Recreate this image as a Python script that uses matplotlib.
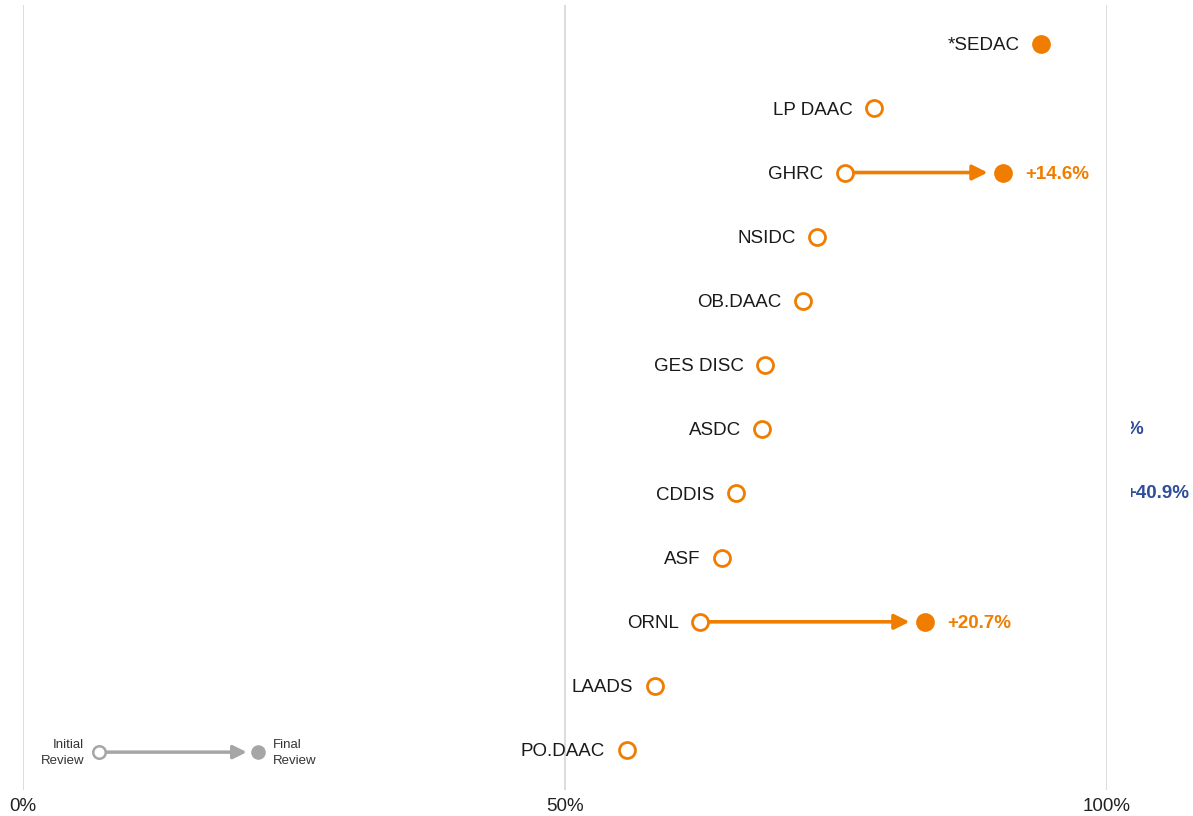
import numpy as np
import matplotlib
matplotlib.use("Agg")
import matplotlib.pyplot as plt
from matplotlib.transforms import Bbox, TransformedBbox

plt.rcParams['font.family'] = ['Liberation Sans', 'DejaVu Sans']

# ---- data ----
centers = ["*SEDAC", "LP DAAC", "GHRC", "NSIDC", "OB.DAAC", "GES DISC",
           "ASDC", "CDDIS", "ASF", "ORNL", "LAADS", "PO.DAAC"]
initial = [np.nan, 78.5, 75.8, 73.3, 72.0, 68.5, 68.2, 65.8, 64.5, 62.5, 58.3, 55.7]
final = [93.9, np.nan, 90.4, np.nan, np.nan, np.nan, np.nan, np.nan, np.nan, 83.2, np.nan, np.nan]
change_labels = ["", "", "+14.6%", "", "", "", "", "", "", "+20.7%", "", ""]
xticks = [0, 50, 100]
xtick_labels = ["0%", "50%", "100%"]
# clipped labels spilling in from the right edge
side_rows = ["ASDC", "CDDIS"]
side_texts = ["%", "+40.9%"]

ORANGE = "#F07D00"
GREY = "#A6A6A6"
BLUE = "#2E4D9C"

W, H = 1193, 816
fig = plt.figure(figsize=(W / 100, H / 100), dpi=100)
x0, x1 = 22.5, 1107.0
ax = fig.add_axes([x0 / W, 1 - 790 / H, (x1 - x0) / W, (790 - 5) / H])
ax.set_xlim(0, 100)
ax.set_ylim(11.62, -0.61)
for s in ax.spines.values():
    s.set_visible(False)
ax.set_yticks([])
ax.set_xticks(xticks)
ax.set_xticklabels(xtick_labels, fontsize=13.5, color="#222222")
ax.tick_params(axis="x", length=0, pad=6)
for xv in xticks:
    ax.axvline(xv, color="#DCDCDC", lw=1.4, zorder=0)

for i, name in enumerate(centers):
    xi, xf = initial[i], final[i]
    if not np.isnan(xi) and not np.isnan(xf):
        ax.annotate("", xy=(xf, i), xytext=(xi, i),
                    arrowprops=dict(arrowstyle="-|>,head_length=0.9,head_width=0.45",
                                    color=ORANGE, lw=2.6,
                                    shrinkA=5, shrinkB=11), zorder=2)
    if not np.isnan(xi):
        ax.plot(xi, i, "o", ms=11.5, mfc="white", mec=ORANGE, mew=2.0, zorder=3)
        lx = xi
    else:
        lx = xf
    if not np.isnan(xf):
        ax.plot(xf, i, "o", ms=13.5, mfc=ORANGE, mec=ORANGE, mew=0, zorder=3)
        if change_labels[i]:
            ax.annotate(change_labels[i], (xf, i), xytext=(16, -1.2),
                        textcoords="offset points", ha="left", va="center",
                        fontsize=13.5, fontweight="bold", color=ORANGE)
    ax.annotate(name, (lx, i), xytext=(-15.5, -1.2), textcoords="offset points",
                ha="right", va="center", fontsize=13.5, color="#1A1A1A")

# legend (bottom-left)
ly = 11.03
lxi, lxf = 7.1, 21.7
ax.annotate("", xy=(lxf, ly), xytext=(lxi, ly),
            arrowprops=dict(arrowstyle="-|>,head_length=0.8,head_width=0.4",
                            color=GREY, lw=2.5, shrinkA=4, shrinkB=8))
ax.plot(lxi, ly, "o", ms=9, mfc="white", mec=GREY, mew=1.8, zorder=3)
ax.plot(lxf, ly, "o", ms=10.5, mfc=GREY, mec=GREY, mew=0, zorder=3)
ax.annotate("Initial\nReview", (lxi, ly), xytext=(-11, -0.5), textcoords="offset points",
            ha="right", va="center", fontsize=9.5, color="#333333", linespacing=1.5)
ax.annotate("Final\nReview", (lxf, ly), xytext=(11, -0.5), textcoords="offset points",
            ha="left", va="center", fontsize=9.5, color="#333333", linespacing=1.5)

# clipped blue labels at the right edge
clip = TransformedBbox(Bbox([[1131 / W, 0], [1, 1]]), fig.transFigure)
side_right = {"ASDC": 103.3, "CDDIS": 107.6}
for name, txt in zip(side_rows, side_texts):
    r = centers.index(name)
    t = ax.text(side_right[name], r, txt, ha="right", va="center", fontsize=13.5,
                fontweight="bold", color=BLUE, clip_on=True)
    t.set_clip_box(clip)

fig.savefig("out.png", dpi=100)
